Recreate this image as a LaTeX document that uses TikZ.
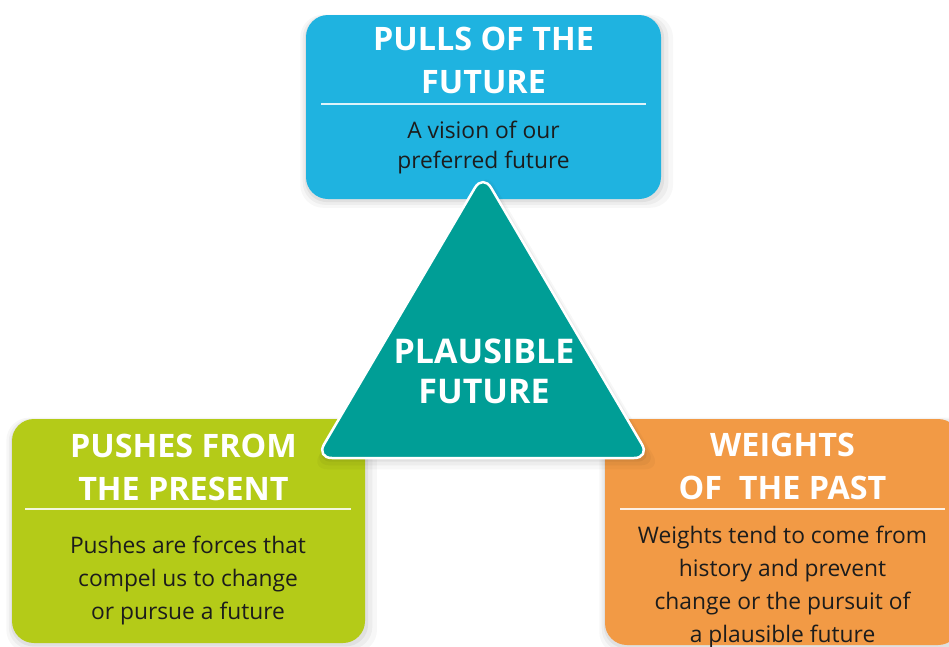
\documentclass[tikz,border=0pt]{standalone}
\usepackage{fontspec}
\setmainfont{Open Sans}
\usetikzlibrary{shadows}
\definecolor{pullblue}{HTML}{1FB3E0}
\definecolor{plteal}{HTML}{009E96}
\definecolor{pushgreen}{HTML}{B4CB18}
\definecolor{weightorange}{HTML}{F29A45}
\definecolor{bodytext}{HTML}{1C1C1C}
\begin{document}
\begin{tikzpicture}[x=1pt,y=-1pt,
  halo/.style={
    general shadow={fill=black,opacity=0.03,shadow scale=1.05,shadow xshift=3pt,shadow yshift=-4pt},
    general shadow={fill=black,opacity=0.04,shadow scale=1.03,shadow xshift=2pt,shadow yshift=-3pt},
    general shadow={fill=black,opacity=0.05,shadow scale=1.012,shadow xshift=1pt,shadow yshift=-2pt}},
  panel/.style={rounded corners=22pt, inner sep=0pt, halo},
  title/.style={text=white, font=\bfseries\fontsize{32.3}{43}\selectfont, align=center, inner sep=0pt},
  body/.style={text=bodytext, font=\fontsize{22.8}{#1}\selectfont, align=center, inner sep=0pt},
  body/.default=33,
  sepline/.style={draw=white, draw opacity=0.85, line width=1.4pt}]
\useasboundingbox (0,0) rectangle (949,646);
\clip (0,0) rectangle (949,646);
\fill[white] (0,0) rectangle (949,646);

% panels
\node[panel, fill=pullblue, minimum width=355pt, minimum height=184pt] (pulls) at (483.5,107) {};
\node[panel, fill=pushgreen, minimum width=353pt, minimum height=224pt] (pushes) at (188.5,531) {};
\node[panel, fill=weightorange, minimum width=355pt, minimum height=226pt] (weights) at (782.5,532) {};

% separators
\coordinate (pullsL) at (321,104);
\coordinate (pullsR) at (646,104);
\coordinate (pushL) at (25,509);
\coordinate (pushR) at (351,509);
\coordinate (weightL) at (620,509);
\coordinate (weightR) at (945,509);
\draw[sepline] (pullsL) -- (pullsR);
\draw[sepline] (pushL) -- (pushR);
\draw[sepline] (weightL) -- (weightR);

% texts
\node[title] (pullsT) at (483.5,60.5) {PULLS OF THE\\FUTURE};
\node[body=30] (pullsB) at (483.5,147.5) {A vision of our\\preferred future};
\node[title] (pushT) at (183.5,467.5) {PUSHES FROM\\THE PRESENT};
\node[body=33] (pushB) at (188,581) {Pushes are forces that\\compel us to change\\or pursue a future};
\node[title] (weightT) at (782.5,466) {WEIGHTS\\OF\ \ THE PAST};
\node[body=33] (weightB) at (782.5,587.5) {Weights tend to come from\\history and prevent\\change or the pursuit of\\a plausible future};

% triangle
\path[fill=plteal, draw=white, line width=2.5pt, rounded corners=16pt, halo]
  (483,458) -- (316,458) -- (483,174) -- (650,458) -- cycle;
\node[title, font=\bfseries\fontsize{34}{40}\selectfont] (plaus) at (484,371.5) {PLAUSIBLE\\FUTURE};
\end{tikzpicture}
\end{document}
